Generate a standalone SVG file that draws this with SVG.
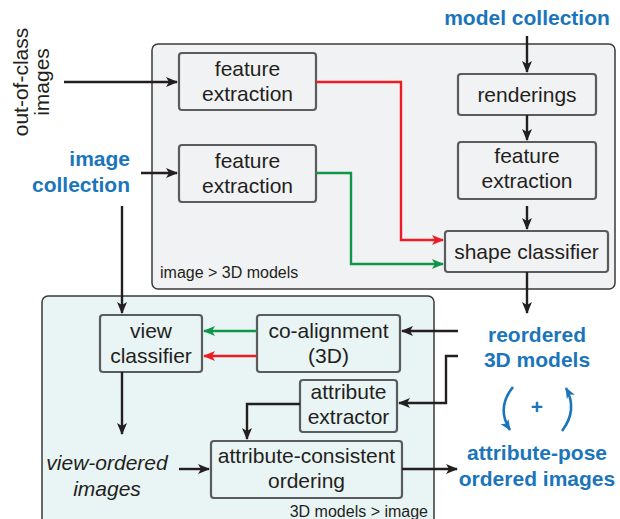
<svg xmlns="http://www.w3.org/2000/svg" width="620" height="519" viewBox="0 0 620 519">
<style>
.panel{stroke:#3a3a3a;stroke-width:1.5}
.box{fill:none;stroke:#5a5b5d;stroke-width:2.2}
.t{font-family:"Liberation Sans",Arial,sans-serif;font-size:21px;fill:#231f20;text-anchor:middle}
.b{font-family:"Liberation Sans",Arial,sans-serif;font-size:21px;font-weight:bold;fill:#1b75bb;text-anchor:middle}
.s{font-family:"Liberation Sans",Arial,sans-serif;font-size:16px;fill:#231f20}
.k{fill:none;stroke:#231f20;stroke-width:2.4}
.r{fill:none;stroke:#ed1c24;stroke-width:2.4}
.g{fill:none;stroke:#0f9648;stroke-width:2.4}
.u{fill:none;stroke:#1b75bb;stroke-width:2.6}
</style>
<defs>
<marker id="ak" viewBox="0 0 12 10" refX="11" refY="5" markerWidth="12" markerHeight="10" markerUnits="userSpaceOnUse" orient="auto"><path d="M0,0 L12,5 L0,10 L3,5 z" fill="#231f20"/></marker>
<marker id="ar" viewBox="0 0 12 10" refX="11" refY="5" markerWidth="12" markerHeight="10" markerUnits="userSpaceOnUse" orient="auto"><path d="M0,0 L12,5 L0,10 L3,5 z" fill="#ed1c24"/></marker>
<marker id="ag" viewBox="0 0 12 10" refX="11" refY="5" markerWidth="12" markerHeight="10" markerUnits="userSpaceOnUse" orient="auto"><path d="M0,0 L12,5 L0,10 L3,5 z" fill="#0f9648"/></marker>
<marker id="au" viewBox="0 0 12 10" refX="11" refY="5" markerWidth="11" markerHeight="10" markerUnits="userSpaceOnUse" orient="auto"><path d="M0,0 L12,5 L0,10 L3,5 z" fill="#1b75bb"/></marker>
</defs>

<g id="panel-top">
<rect class="panel" x="152" y="44" width="463" height="245" rx="6" fill="#f1f2f3"/>
<text class="s" x="160" y="278">image &gt; 3D models</text>
</g>
<g id="panel-bottom">
<rect class="panel" x="42" y="296" width="392" height="232" rx="6" fill="#e9f4f4"/>
<text class="s" x="428" y="517" text-anchor="end">3D models &gt; image</text>
</g>

<g id="out-of-class">
<text class="t" transform="translate(28,82) rotate(-90)">out-of-class</text>
<text class="t" transform="translate(49,82) rotate(-90)">images</text>
</g>
<g id="image-collection">
<text class="b" x="130" y="166" style="text-anchor:end">image</text>
<text class="b" x="130" y="192" style="text-anchor:end">collection</text>
</g>
<g id="model-collection"><text class="b" x="527" y="25">model collection</text></g>

<g id="fe1"><rect class="box" x="179" y="53" width="137" height="57" rx="3"/>
<text class="t" x="247.5" y="76">feature</text><text class="t" x="247.5" y="101">extraction</text></g>
<g id="fe2"><rect class="box" x="179" y="145" width="137" height="57" rx="3"/>
<text class="t" x="247.5" y="168">feature</text><text class="t" x="247.5" y="193">extraction</text></g>
<g id="renderings"><rect class="box" x="458" y="74" width="138" height="41" rx="3"/>
<text class="t" x="527" y="102">renderings</text></g>
<g id="fe3"><rect class="box" x="458" y="142" width="138" height="57" rx="3"/>
<text class="t" x="527" y="163">feature</text><text class="t" x="527" y="188">extraction</text></g>
<g id="shape-classifier"><rect class="box" x="445" y="231" width="163" height="41" rx="3"/>
<text class="t" x="526.5" y="259">shape classifier</text></g>

<g id="view-classifier"><rect class="box" x="100" y="315" width="102" height="57" rx="3"/>
<text class="t" x="151" y="338">view</text><text class="t" x="151" y="363">classifier</text></g>
<g id="co-alignment"><rect class="box" x="257" y="315" width="143" height="57" rx="3"/>
<text class="t" x="328.5" y="338">co-alignment</text><text class="t" x="328.5" y="363">(3D)</text></g>
<g id="attribute-extractor"><rect class="box" x="300" y="380" width="97" height="52" rx="3"/>
<text class="t" x="348.5" y="399">attribute</text><text class="t" x="348.5" y="424">extractor</text></g>
<g id="attr-ordering"><rect class="box" x="211" y="441" width="191" height="57" rx="3"/>
<text class="t" x="306.5" y="463">attribute-consistent</text><text class="t" x="306.5" y="488">ordering</text></g>

<g id="view-ordered">
<text class="t" x="107" y="470" font-style="italic">view-ordered</text>
<text class="t" x="107" y="496" font-style="italic">images</text>
</g>
<g id="reordered">
<text class="b" x="537" y="342">reordered</text>
<text class="b" x="537" y="367">3D models</text>
</g>
<g id="attribute-pose">
<text class="b" x="537" y="460">attribute-pose</text>
<text class="b" x="537" y="486">ordered images</text>
</g>
<g id="plus"><text class="b" x="537" y="414">+</text></g>

<g id="connectors">
<path class="k" d="M64,82 H177" marker-end="url(#ak)"/>
<path class="k" d="M141,173 H177" marker-end="url(#ak)"/>
<path class="r" d="M316,82 H401 V240 H443" marker-end="url(#ar)"/>
<path class="g" d="M316,173 H351 V264 H443" marker-end="url(#ag)"/>
<path class="k" d="M527,36 V72" marker-end="url(#ak)"/>
<path class="k" d="M527,115 V140" marker-end="url(#ak)"/>
<path class="k" d="M527,206 V229" marker-end="url(#ak)"/>
<path class="k" d="M527,272 V313" marker-end="url(#ak)"/>
<path class="k" d="M122,206 V313" marker-end="url(#ak)"/>
<path class="g" d="M257,331 H204" marker-end="url(#ag)"/>
<path class="r" d="M257,356 H204" marker-end="url(#ar)"/>
<path class="k" d="M458,331 H402" marker-end="url(#ak)"/>
<path class="k" d="M458,356 H446 V403 H399" marker-end="url(#ak)"/>
<path class="k" d="M300,404 H247 V439" marker-end="url(#ak)"/>
<path class="k" d="M122,372 V434" marker-end="url(#ak)"/>
<path class="k" d="M179,469 H209" marker-end="url(#ak)"/>
<path class="k" d="M402,469 H457" marker-end="url(#ak)"/>
<path class="u" d="M513,387 Q496,408 510,430" marker-end="url(#au)"/>
<path class="u" d="M562,431 Q578,410 566,388" marker-end="url(#au)"/>
</g>
</svg>
